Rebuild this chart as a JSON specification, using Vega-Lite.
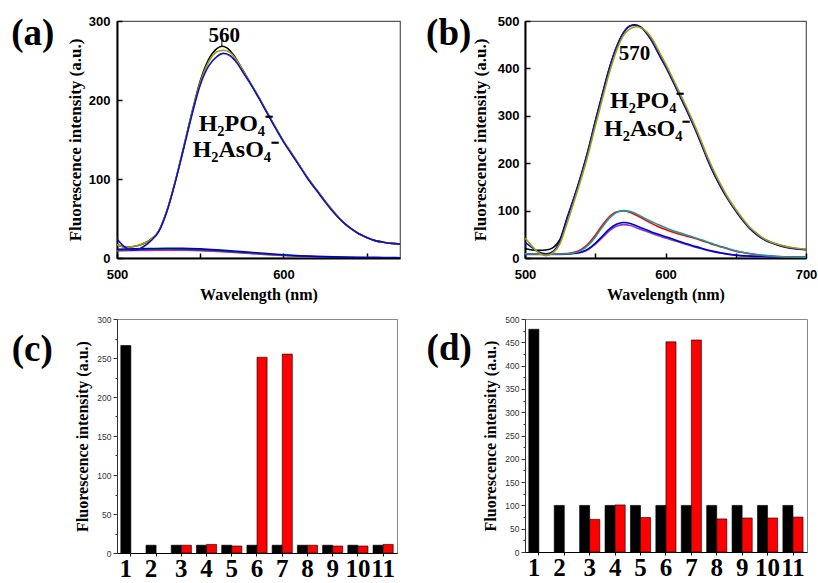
{
  "$schema": "https://vega.github.io/schema/vega-lite/v6.json",
  "background": "white",
  "padding": {"left": 10, "top": 14, "right": 0, "bottom": 0},
  "columns": 2,
  "spacing": {"row": 61, "column": 125},
  "bounds": "flush",
  "resolve": {"scale": {"color": "independent"}},
  "config": {
    "view": {"stroke": null},
    "axis": {"grid": false, "domainColor": "#000", "tickColor": "#000", "labelColor": "#000", "titleColor": "#000", "labelFlush": false}
  },
  "datasets": {
    "a": [
      {"s":"1m","w":500,"v":9},{"s":"1m","w":510,"v":9.4},{"s":"1m","w":520,"v":9.7},{"s":"1m","w":530,"v":9.9},{"s":"1m","w":540,"v":9.8},{"s":"1m","w":550,"v":9.3},{"s":"1m","w":560,"v":8.3},{"s":"1m","w":570,"v":7},{"s":"1m","w":580,"v":5.6},{"s":"1m","w":590,"v":4.3},{"s":"1m","w":600,"v":3.1},{"s":"1m","w":610,"v":2.1},{"s":"1m","w":620,"v":1.4},{"s":"1m","w":630,"v":1},{"s":"1m","w":640,"v":0.7},{"s":"1m","w":650,"v":0.5},{"s":"1m","w":660,"v":0.4},{"s":"1m","w":670,"v":0.3},
      {"s":"2g","w":500,"v":9.8},{"s":"2g","w":510,"v":10.3},{"s":"2g","w":520,"v":10.7},{"s":"2g","w":530,"v":11},{"s":"2g","w":540,"v":10.9},{"s":"2g","w":550,"v":10.3},{"s":"2g","w":560,"v":9.2},{"s":"2g","w":570,"v":7.8},{"s":"2g","w":580,"v":6.3},{"s":"2g","w":590,"v":4.8},{"s":"2g","w":600,"v":3.5},{"s":"2g","w":610,"v":2.4},{"s":"2g","w":620,"v":1.6},{"s":"2g","w":630,"v":1.1},{"s":"2g","w":640,"v":0.8},{"s":"2g","w":650,"v":0.5},{"s":"2g","w":660,"v":0.4},{"s":"2g","w":670,"v":0.3},
      {"s":"3n","w":500,"v":11},{"s":"3n","w":510,"v":11.6},{"s":"3n","w":520,"v":12},{"s":"3n","w":530,"v":12.3},{"s":"3n","w":540,"v":12.2},{"s":"3n","w":550,"v":11.5},{"s":"3n","w":560,"v":10.3},{"s":"3n","w":570,"v":8.8},{"s":"3n","w":580,"v":7.2},{"s":"3n","w":590,"v":5.6},{"s":"3n","w":600,"v":4.1},{"s":"3n","w":610,"v":2.9},{"s":"3n","w":620,"v":2},{"s":"3n","w":630,"v":1.4},{"s":"3n","w":640,"v":1},{"s":"3n","w":650,"v":0.7},{"s":"3n","w":660,"v":0.5},{"s":"3n","w":670,"v":0.4},
      {"s":"4k","w":500,"v":17},{"s":"4k","w":503,"v":14.5},{"s":"4k","w":506,"v":13.5},{"s":"4k","w":510,"v":14.5},{"s":"4k","w":515,"v":17.5},{"s":"4k","w":520,"v":23},{"s":"4k","w":525,"v":34},{"s":"4k","w":530,"v":60},{"s":"4k","w":535,"v":97},{"s":"4k","w":540,"v":140},{"s":"4k","w":545,"v":184},{"s":"4k","w":550,"v":224},{"s":"4k","w":555,"v":251},{"s":"4k","w":560,"v":265},{"s":"4k","w":563,"v":268},{"s":"4k","w":566,"v":266},{"s":"4k","w":570,"v":257},{"s":"4k","w":575,"v":240},{"s":"4k","w":580,"v":222},{"s":"4k","w":585,"v":204},{"s":"4k","w":590,"v":185},{"s":"4k","w":595,"v":166},{"s":"4k","w":600,"v":148},{"s":"4k","w":605,"v":132},{"s":"4k","w":610,"v":116},{"s":"4k","w":615,"v":100},{"s":"4k","w":620,"v":86},{"s":"4k","w":625,"v":72},{"s":"4k","w":630,"v":59},{"s":"4k","w":635,"v":47},{"s":"4k","w":640,"v":38},{"s":"4k","w":645,"v":31},{"s":"4k","w":650,"v":26},{"s":"4k","w":655,"v":22},{"s":"4k","w":660,"v":20},{"s":"4k","w":665,"v":18.5},{"s":"4k","w":670,"v":17.5},
      {"s":"5o","w":500,"v":17},{"s":"5o","w":503,"v":14.5},{"s":"5o","w":506,"v":13.5},{"s":"5o","w":510,"v":14.5},{"s":"5o","w":515,"v":17.5},{"s":"5o","w":520,"v":23},{"s":"5o","w":525,"v":34},{"s":"5o","w":530,"v":60},{"s":"5o","w":535,"v":97},{"s":"5o","w":540,"v":139},{"s":"5o","w":545,"v":183},{"s":"5o","w":550,"v":222},{"s":"5o","w":555,"v":248},{"s":"5o","w":560,"v":261},{"s":"5o","w":564,"v":263},{"s":"5o","w":568,"v":260},{"s":"5o","w":572,"v":250},{"s":"5o","w":576,"v":236},{"s":"5o","w":580,"v":222},{"s":"5o","w":585,"v":204},{"s":"5o","w":590,"v":185},{"s":"5o","w":595,"v":166},{"s":"5o","w":600,"v":148},{"s":"5o","w":605,"v":132},{"s":"5o","w":610,"v":116},{"s":"5o","w":615,"v":100},{"s":"5o","w":620,"v":86},{"s":"5o","w":625,"v":72},{"s":"5o","w":630,"v":59},{"s":"5o","w":635,"v":47},{"s":"5o","w":640,"v":38},{"s":"5o","w":645,"v":31},{"s":"5o","w":650,"v":26},{"s":"5o","w":655,"v":22},{"s":"5o","w":660,"v":20},{"s":"5o","w":665,"v":18.5},{"s":"5o","w":670,"v":17.5},
      {"s":"6b","w":500,"v":24},{"s":"6b","w":503,"v":17},{"s":"6b","w":506,"v":12},{"s":"6b","w":509,"v":10},{"s":"6b","w":512,"v":10.5},{"s":"6b","w":516,"v":14.5},{"s":"6b","w":520,"v":21},{"s":"6b","w":525,"v":33},{"s":"6b","w":530,"v":59},{"s":"6b","w":535,"v":96},{"s":"6b","w":540,"v":138},{"s":"6b","w":545,"v":181},{"s":"6b","w":550,"v":219},{"s":"6b","w":555,"v":243},{"s":"6b","w":560,"v":255},{"s":"6b","w":564,"v":259},{"s":"6b","w":568,"v":256},{"s":"6b","w":572,"v":247},{"s":"6b","w":576,"v":234},{"s":"6b","w":580,"v":221},{"s":"6b","w":585,"v":203},{"s":"6b","w":590,"v":184},{"s":"6b","w":595,"v":165},{"s":"6b","w":600,"v":147},{"s":"6b","w":605,"v":131},{"s":"6b","w":610,"v":115},{"s":"6b","w":615,"v":99},{"s":"6b","w":620,"v":85},{"s":"6b","w":625,"v":71},{"s":"6b","w":630,"v":58},{"s":"6b","w":635,"v":47},{"s":"6b","w":640,"v":38},{"s":"6b","w":645,"v":31},{"s":"6b","w":650,"v":26},{"s":"6b","w":655,"v":22},{"s":"6b","w":660,"v":20},{"s":"6b","w":665,"v":18.5},{"s":"6b","w":670,"v":17.5}
    ],
    "b": [
      {"s":"1p","w":500,"v":7.5},{"s":"1p","w":510,"v":7.3},{"s":"1p","w":520,"v":7.5},{"s":"1p","w":530,"v":8},{"s":"1p","w":535,"v":9.4},{"s":"1p","w":540,"v":11.8},{"s":"1p","w":545,"v":18},{"s":"1p","w":550,"v":29},{"s":"1p","w":555,"v":43},{"s":"1p","w":560,"v":57},{"s":"1p","w":565,"v":67},{"s":"1p","w":570,"v":70.5},{"s":"1p","w":575,"v":68.5},{"s":"1p","w":580,"v":63},{"s":"1p","w":585,"v":57.5},{"s":"1p","w":590,"v":52},{"s":"1p","w":595,"v":47},{"s":"1p","w":600,"v":42},{"s":"1p","w":605,"v":37.5},{"s":"1p","w":610,"v":33},{"s":"1p","w":615,"v":28.5},{"s":"1p","w":620,"v":24},{"s":"1p","w":625,"v":20},{"s":"1p","w":630,"v":16},{"s":"1p","w":635,"v":12.8},{"s":"1p","w":640,"v":10},{"s":"1p","w":645,"v":7.7},{"s":"1p","w":650,"v":5.8},{"s":"1p","w":660,"v":3.9},{"s":"1p","w":670,"v":2.9},{"s":"1p","w":680,"v":2.3},{"s":"1p","w":690,"v":1.9},{"s":"1p","w":700,"v":1.7},
      {"s":"2n","w":500,"v":8},{"s":"2n","w":510,"v":7.8},{"s":"2n","w":520,"v":8},{"s":"2n","w":530,"v":8.5},{"s":"2n","w":535,"v":10},{"s":"2n","w":540,"v":12.5},{"s":"2n","w":545,"v":19},{"s":"2n","w":550,"v":31},{"s":"2n","w":555,"v":46},{"s":"2n","w":560,"v":61},{"s":"2n","w":565,"v":71},{"s":"2n","w":570,"v":75},{"s":"2n","w":575,"v":73},{"s":"2n","w":580,"v":67},{"s":"2n","w":585,"v":61},{"s":"2n","w":590,"v":55},{"s":"2n","w":595,"v":50},{"s":"2n","w":600,"v":45},{"s":"2n","w":605,"v":40},{"s":"2n","w":610,"v":35},{"s":"2n","w":615,"v":30},{"s":"2n","w":620,"v":25.5},{"s":"2n","w":625,"v":21},{"s":"2n","w":630,"v":17},{"s":"2n","w":635,"v":13.5},{"s":"2n","w":640,"v":10.5},{"s":"2n","w":645,"v":8},{"s":"2n","w":650,"v":6},{"s":"2n","w":660,"v":4},{"s":"2n","w":670,"v":3},{"s":"2n","w":680,"v":2.4},{"s":"2n","w":690,"v":2},{"s":"2n","w":700,"v":1.8},
      {"s":"3r","w":500,"v":9},{"s":"3r","w":510,"v":8.5},{"s":"3r","w":520,"v":8.5},{"s":"3r","w":530,"v":9.5},{"s":"3r","w":535,"v":12},{"s":"3r","w":540,"v":18},{"s":"3r","w":545,"v":30},{"s":"3r","w":550,"v":48},{"s":"3r","w":555,"v":69},{"s":"3r","w":560,"v":87},{"s":"3r","w":565,"v":97},{"s":"3r","w":570,"v":99},{"s":"3r","w":575,"v":96},{"s":"3r","w":580,"v":89},{"s":"3r","w":585,"v":81},{"s":"3r","w":590,"v":73},{"s":"3r","w":595,"v":66},{"s":"3r","w":600,"v":60},{"s":"3r","w":605,"v":55},{"s":"3r","w":610,"v":50},{"s":"3r","w":615,"v":46},{"s":"3r","w":620,"v":42},{"s":"3r","w":625,"v":37.5},{"s":"3r","w":630,"v":32.5},{"s":"3r","w":635,"v":27.5},{"s":"3r","w":640,"v":23},{"s":"3r","w":645,"v":18.5},{"s":"3r","w":650,"v":14.5},{"s":"3r","w":655,"v":11.5},{"s":"3r","w":660,"v":9},{"s":"3r","w":665,"v":7},{"s":"3r","w":670,"v":5.3},{"s":"3r","w":680,"v":3.1},{"s":"3r","w":690,"v":2.1},{"s":"3r","w":700,"v":1.7},
      {"s":"4t","w":500,"v":9},{"s":"4t","w":510,"v":8.5},{"s":"4t","w":520,"v":8.5},{"s":"4t","w":530,"v":9},{"s":"4t","w":535,"v":11},{"s":"4t","w":540,"v":16},{"s":"4t","w":545,"v":27},{"s":"4t","w":550,"v":44},{"s":"4t","w":555,"v":65},{"s":"4t","w":560,"v":84},{"s":"4t","w":565,"v":96},{"s":"4t","w":570,"v":100},{"s":"4t","w":575,"v":98},{"s":"4t","w":580,"v":92},{"s":"4t","w":585,"v":84},{"s":"4t","w":590,"v":77},{"s":"4t","w":595,"v":70},{"s":"4t","w":600,"v":64},{"s":"4t","w":605,"v":58},{"s":"4t","w":610,"v":53},{"s":"4t","w":615,"v":48.5},{"s":"4t","w":620,"v":44},{"s":"4t","w":625,"v":39},{"s":"4t","w":630,"v":34},{"s":"4t","w":635,"v":28.5},{"s":"4t","w":640,"v":24},{"s":"4t","w":645,"v":19.5},{"s":"4t","w":650,"v":15.5},{"s":"4t","w":655,"v":12},{"s":"4t","w":660,"v":9.5},{"s":"4t","w":665,"v":7.3},{"s":"4t","w":670,"v":5.5},{"s":"4t","w":680,"v":3.2},{"s":"4t","w":690,"v":2.2},{"s":"4t","w":700,"v":1.8},
      {"s":"5k","w":500,"v":20},{"s":"5k","w":505,"v":17},{"s":"5k","w":510,"v":16},{"s":"5k","w":515,"v":17},{"s":"5k","w":520,"v":22},{"s":"5k","w":525,"v":40},{"s":"5k","w":530,"v":85},{"s":"5k","w":535,"v":128},{"s":"5k","w":540,"v":175},{"s":"5k","w":545,"v":228},{"s":"5k","w":550,"v":288},{"s":"5k","w":555,"v":345},{"s":"5k","w":560,"v":400},{"s":"5k","w":565,"v":444},{"s":"5k","w":570,"v":475},{"s":"5k","w":575,"v":490},{"s":"5k","w":578,"v":492},{"s":"5k","w":582,"v":488},{"s":"5k","w":586,"v":477},{"s":"5k","w":590,"v":460},{"s":"5k","w":595,"v":432},{"s":"5k","w":600,"v":405},{"s":"5k","w":605,"v":375},{"s":"5k","w":610,"v":344},{"s":"5k","w":615,"v":313},{"s":"5k","w":620,"v":280},{"s":"5k","w":625,"v":245},{"s":"5k","w":630,"v":208},{"s":"5k","w":635,"v":175},{"s":"5k","w":640,"v":147},{"s":"5k","w":645,"v":122},{"s":"5k","w":650,"v":100},{"s":"5k","w":655,"v":80},{"s":"5k","w":660,"v":63},{"s":"5k","w":665,"v":50},{"s":"5k","w":670,"v":40},{"s":"5k","w":675,"v":33},{"s":"5k","w":680,"v":28},{"s":"5k","w":685,"v":24},{"s":"5k","w":690,"v":21},{"s":"5k","w":695,"v":19},{"s":"5k","w":700,"v":18},
      {"s":"6b","w":500,"v":33},{"s":"6b","w":505,"v":22},{"s":"6b","w":510,"v":12},{"s":"6b","w":515,"v":9},{"s":"6b","w":520,"v":14},{"s":"6b","w":525,"v":36},{"s":"6b","w":530,"v":84},{"s":"6b","w":535,"v":128},{"s":"6b","w":540,"v":175},{"s":"6b","w":545,"v":228},{"s":"6b","w":550,"v":288},{"s":"6b","w":555,"v":345},{"s":"6b","w":560,"v":400},{"s":"6b","w":565,"v":444},{"s":"6b","w":570,"v":475},{"s":"6b","w":575,"v":490},{"s":"6b","w":578,"v":491},{"s":"6b","w":582,"v":487},{"s":"6b","w":586,"v":476},{"s":"6b","w":590,"v":459},{"s":"6b","w":595,"v":431},{"s":"6b","w":600,"v":404},{"s":"6b","w":605,"v":374},{"s":"6b","w":610,"v":343},{"s":"6b","w":615,"v":312},{"s":"6b","w":620,"v":279},{"s":"6b","w":625,"v":244},{"s":"6b","w":630,"v":207},{"s":"6b","w":635,"v":174},{"s":"6b","w":640,"v":146},{"s":"6b","w":645,"v":121},{"s":"6b","w":650,"v":99},{"s":"6b","w":655,"v":79},{"s":"6b","w":660,"v":62},{"s":"6b","w":665,"v":49},{"s":"6b","w":670,"v":39},{"s":"6b","w":675,"v":32},{"s":"6b","w":680,"v":27},{"s":"6b","w":685,"v":23},{"s":"6b","w":690,"v":20},{"s":"6b","w":695,"v":18.5},{"s":"6b","w":700,"v":17.5},
      {"s":"7o","w":500,"v":42},{"s":"7o","w":505,"v":25},{"s":"7o","w":510,"v":10},{"s":"7o","w":515,"v":5},{"s":"7o","w":520,"v":11},{"s":"7o","w":525,"v":31},{"s":"7o","w":530,"v":74},{"s":"7o","w":535,"v":120},{"s":"7o","w":540,"v":167},{"s":"7o","w":545,"v":219},{"s":"7o","w":550,"v":278},{"s":"7o","w":555,"v":335},{"s":"7o","w":560,"v":390},{"s":"7o","w":565,"v":436},{"s":"7o","w":570,"v":469},{"s":"7o","w":575,"v":484},{"s":"7o","w":579,"v":488},{"s":"7o","w":583,"v":485},{"s":"7o","w":587,"v":476},{"s":"7o","w":591,"v":460},{"s":"7o","w":595,"v":438},{"s":"7o","w":600,"v":410},{"s":"7o","w":605,"v":380},{"s":"7o","w":610,"v":349},{"s":"7o","w":615,"v":318},{"s":"7o","w":620,"v":285},{"s":"7o","w":625,"v":250},{"s":"7o","w":630,"v":213},{"s":"7o","w":635,"v":180},{"s":"7o","w":640,"v":151},{"s":"7o","w":645,"v":125},{"s":"7o","w":650,"v":103},{"s":"7o","w":655,"v":83},{"s":"7o","w":660,"v":65},{"s":"7o","w":665,"v":52},{"s":"7o","w":670,"v":41},{"s":"7o","w":675,"v":34},{"s":"7o","w":680,"v":29},{"s":"7o","w":685,"v":25},{"s":"7o","w":690,"v":22},{"s":"7o","w":695,"v":20},{"s":"7o","w":700,"v":19}
    ],
    "c": [
      {"g":1,"k":"a","v":266},{"g":2,"k":"a","v":10},
      {"g":3,"k":"a","v":10},{"g":3,"k":"b","v":10},
      {"g":4,"k":"a","v":10},{"g":4,"k":"b","v":11},
      {"g":5,"k":"a","v":10},{"g":5,"k":"b","v":9},
      {"g":6,"k":"a","v":10},{"g":6,"k":"b","v":251},
      {"g":7,"k":"a","v":10},{"g":7,"k":"b","v":255},
      {"g":8,"k":"a","v":10},{"g":8,"k":"b","v":10},
      {"g":9,"k":"a","v":10},{"g":9,"k":"b","v":9},
      {"g":10,"k":"a","v":10},{"g":10,"k":"b","v":9},
      {"g":11,"k":"a","v":10},{"g":11,"k":"b","v":11}
    ],
    "d": [
      {"g":1,"k":"a","v":478},{"g":2,"k":"a","v":100},
      {"g":3,"k":"a","v":100},{"g":3,"k":"b","v":70},
      {"g":4,"k":"a","v":100},{"g":4,"k":"b","v":101},
      {"g":5,"k":"a","v":100},{"g":5,"k":"b","v":74},
      {"g":6,"k":"a","v":100},{"g":6,"k":"b","v":451},
      {"g":7,"k":"a","v":100},{"g":7,"k":"b","v":455},
      {"g":8,"k":"a","v":100},{"g":8,"k":"b","v":71},
      {"g":9,"k":"a","v":100},{"g":9,"k":"b","v":73},
      {"g":10,"k":"a","v":100},{"g":10,"k":"b","v":73},
      {"g":11,"k":"a","v":100},{"g":11,"k":"b","v":75}
    ]
  },
  "concat": [
    {
      "width": 283, "height": 237,
      "view": {"stroke": "#555", "strokeWidth": 1.2},
      "title": {"text": "(a)", "orient": "left", "anchor": "end", "frame": "group", "angle": 0, "align": "left", "baseline": "top", "font": "Liberation Serif", "fontSize": 37, "fontWeight": "bold", "color": "#000", "offset": 12, "dy": -5},
      "layer": [
        {
          "data": {"name": "a"},
          "mark": {"type": "line", "interpolate": "monotone", "strokeWidth": 1.6, "clip": true},
          "encoding": {
            "x": {"field": "w", "type": "quantitative", "scale": {"domain": [500, 670], "nice": false, "zero": false},
                  "axis": {"values": [500, 550, 600, 650], "labelExpr": "datum.value % 100 === 0 ? datum.label : ''", "title": "Wavelength (nm)", "titleFont": "Liberation Serif", "titleFontSize": 16, "titleFontWeight": "bold", "titlePadding": 5, "labelFont": "Liberation Sans", "labelFontSize": 13, "labelFontWeight": "bold", "tickSize": -5, "labelPadding": 15, "tickWidth": 1.5, "domainWidth": 2}},
            "y": {"field": "v", "type": "quantitative", "scale": {"domain": [0, 300], "nice": false},
                  "axis": {"values": [0, 50, 100, 150, 200, 250, 300], "labelExpr": "datum.value % 100 === 0 ? datum.label : ''", "title": "Fluorescence intensity (a.u.)", "titleFont": "Liberation Serif", "titleFontSize": 17, "titleFontWeight": "bold", "titlePadding": 4, "labelFont": "Liberation Sans", "labelFontSize": 13, "labelFontWeight": "bold", "tickSize": -5, "labelPadding": 12, "tickWidth": 1.5, "domainWidth": 2}},
            "color": {"field": "s", "type": "nominal", "scale": {"domain": ["1m", "2g", "3n", "4k", "5o", "6b"], "range": ["#ff00ff", "#007a00", "#0000cc", "#000000", "#a0a000", "#1010c8"]}, "legend": null}
          }
        },
        {
          "data": {"values": [{"w": 563, "v": 267, "v2": 276}]},
          "mark": {"type": "rule", "color": "#000", "strokeWidth": 1},
          "encoding": {"x": {"field": "w", "type": "quantitative"}, "y": {"field": "v", "type": "quantitative"}, "y2": {"field": "v2"}}
        },
        {
          "data": {"values": [{"w": 564.4, "v": 281, "t": "560", "f": 21}, {"w": 571.4, "v": 170, "t": "H₂PO₄⁻", "f": 24}, {"w": 571.4, "v": 137, "t": "H₂AsO₄⁻", "f": 24}]},
          "mark": {"type": "text", "font": "Liberation Serif", "fontWeight": "bold", "color": "#000", "baseline": "middle", "align": "center"},
          "encoding": {"x": {"field": "w", "type": "quantitative"}, "y": {"field": "v", "type": "quantitative"}, "text": {"field": "t"}, "size": {"field": "f", "type": "quantitative", "scale": null}}
        }
      ]
    },
    {
      "width": 281, "height": 237,
      "view": {"stroke": "#555", "strokeWidth": 1.2},
      "title": {"text": "(b)", "orient": "left", "anchor": "end", "frame": "group", "angle": 0, "align": "left", "baseline": "top", "font": "Liberation Serif", "fontSize": 37, "fontWeight": "bold", "color": "#000", "offset": 0, "dy": -5},
      "layer": [
        {
          "data": {"name": "b"},
          "mark": {"type": "line", "interpolate": "monotone", "strokeWidth": 1.6, "clip": true},
          "encoding": {
            "x": {"field": "w", "type": "quantitative", "scale": {"domain": [500, 700], "nice": false, "zero": false},
                  "axis": {"values": [500, 550, 600, 650, 700], "labelExpr": "datum.value % 100 === 0 ? datum.label : ''", "title": "Wavelength (nm)", "titleFont": "Liberation Serif", "titleFontSize": 16, "titleFontWeight": "bold", "titlePadding": 5, "labelFont": "Liberation Sans", "labelFontSize": 13, "labelFontWeight": "bold", "tickSize": -5, "labelPadding": 15, "tickWidth": 1.5, "domainWidth": 2}},
            "y": {"field": "v", "type": "quantitative", "scale": {"domain": [0, 500], "nice": false},
                  "axis": {"values": [0, 50, 100, 150, 200, 250, 300, 350, 400, 450, 500], "labelExpr": "datum.value % 100 === 0 ? datum.label : ''", "title": "Fluorescence intensity (a.u.)", "titleFont": "Liberation Serif", "titleFontSize": 17, "titleFontWeight": "bold", "titlePadding": 8, "labelFont": "Liberation Sans", "labelFontSize": 13, "labelFontWeight": "bold", "tickSize": -5, "labelPadding": 11, "tickWidth": 1.5, "domainWidth": 2}},
            "color": {"field": "s", "type": "nominal", "scale": {"domain": ["1p", "2n", "3r", "4t", "5k", "6b", "7o"], "range": ["#8a3cc8", "#0000cc", "#ff0000", "#1a9a9a", "#000000", "#1010c8", "#a0a000"]}, "legend": null}
          }
        },
        {
          "data": {"values": [{"w": 578, "v": 430, "t": "570", "f": 21}, {"w": 587, "v": 331, "t": "H₂PO₄⁻", "f": 24}, {"w": 587, "v": 272, "t": "H₂AsO₄⁻", "f": 24}]},
          "mark": {"type": "text", "font": "Liberation Serif", "fontWeight": "bold", "color": "#000", "baseline": "middle", "align": "center"},
          "encoding": {"x": {"field": "w", "type": "quantitative"}, "y": {"field": "v", "type": "quantitative"}, "text": {"field": "t"}, "size": {"field": "f", "type": "quantitative", "scale": null}}
        }
      ]
    },
    {
      "width": 280, "height": 234,
      "view": {"stroke": "#888", "strokeWidth": 1},
      "title": {"text": "(c)", "orient": "left", "anchor": "end", "frame": "group", "angle": 0, "align": "left", "baseline": "top", "font": "Liberation Serif", "fontSize": 37, "fontWeight": "bold", "color": "#000", "offset": 22, "dy": 13},
      "data": {"name": "c"},
      "mark": {"type": "bar", "stroke": "#000", "strokeWidth": 0.6},
      "encoding": {
        "x": {"field": "g", "type": "ordinal", "scale": {"paddingInner": 0.2, "paddingOuter": 0.15},
              "axis": {"title": null, "labelAngle": 0, "labelFont": "Liberation Serif", "labelFontSize": 25, "labelFontWeight": "bold", "labelPadding": 0, "tickSize": 3, "labelOffset": {"condition": {"test": "datum.value <= 2", "value": -5}, "value": 0}}},
        "xOffset": {"field": "k", "type": "nominal", "scale": {"domain": ["a", "b"]}},
        "y": {"field": "v", "type": "quantitative", "scale": {"domain": [0, 300], "nice": false},
              "axis": {"values": [0, 25, 50, 75, 100, 125, 150, 175, 200, 225, 250, 275, 300], "labelExpr": "datum.value % 50 === 0 ? datum.label : ''", "title": "Fluorescence intensity (a.u.)", "titleFont": "Liberation Serif", "titleFontSize": 16, "titleFontWeight": "bold", "titlePadding": 6, "labelFont": "Liberation Sans", "labelFontSize": 8.5, "labelColor": "#333", "tickSize": {"condition": {"test": "datum.value % 50 !== 0", "value": 2}, "value": 4}, "labelPadding": 2, "domainColor": "#333", "tickColor": "#333"}},
        "color": {"field": "k", "type": "nominal", "scale": {"domain": ["a", "b"], "range": ["#000000", "#ff0000"]}, "legend": null}
      }
    },
    {
      "width": 282, "height": 233,
      "view": {"stroke": "#888", "strokeWidth": 1},
      "title": {"text": "(d)", "orient": "left", "anchor": "end", "frame": "group", "angle": 0, "align": "left", "baseline": "top", "font": "Liberation Serif", "fontSize": 37, "fontWeight": "bold", "color": "#000", "offset": 11, "dy": 12},
      "data": {"name": "d"},
      "mark": {"type": "bar", "stroke": "#000", "strokeWidth": 0.6},
      "encoding": {
        "x": {"field": "g", "type": "ordinal", "scale": {"paddingInner": 0.2, "paddingOuter": 0.15},
              "axis": {"title": null, "labelAngle": 0, "labelFont": "Liberation Serif", "labelFontSize": 25, "labelFontWeight": "bold", "labelPadding": 0, "tickSize": 3, "labelOffset": {"condition": {"test": "datum.value <= 2", "value": -5}, "value": 0}}},
        "xOffset": {"field": "k", "type": "nominal", "scale": {"domain": ["a", "b"]}},
        "y": {"field": "v", "type": "quantitative", "scale": {"domain": [0, 500], "nice": false},
              "axis": {"values": [0, 25, 50, 75, 100, 125, 150, 175, 200, 225, 250, 275, 300, 325, 350, 375, 400, 425, 450, 475, 500], "labelExpr": "datum.value % 50 === 0 ? datum.label : ''", "title": "Fluorescence intensity (a.u.)", "titleFont": "Liberation Serif", "titleFontSize": 16, "titleFontWeight": "bold", "titlePadding": 6, "labelFont": "Liberation Sans", "labelFontSize": 8.5, "labelColor": "#333", "tickSize": {"condition": {"test": "datum.value % 50 !== 0", "value": 2}, "value": 4}, "labelPadding": 2, "domainColor": "#333", "tickColor": "#333"}},
        "color": {"field": "k", "type": "nominal", "scale": {"domain": ["a", "b"], "range": ["#000000", "#ff0000"]}, "legend": null}
      }
    }
  ]
}
